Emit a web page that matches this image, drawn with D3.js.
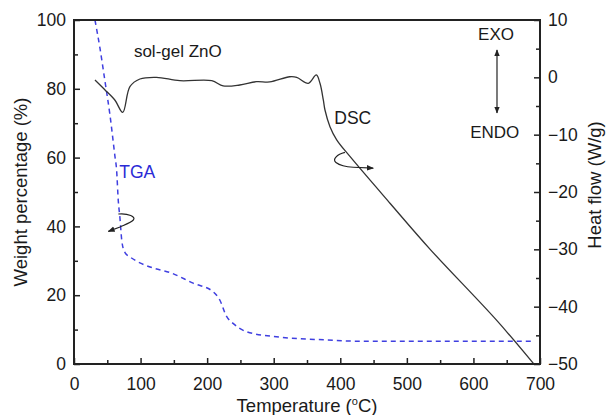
<!DOCTYPE html>
<html>
<head>
<meta charset="utf-8">
<script src="https://cdn.jsdelivr.net/npm/d3@7"></script>
<style>
  html, body { margin: 0; padding: 0; background: #fff; }
  svg { display: block; }
  text { font-family: "Liberation Sans", Arial, Helvetica, sans-serif; fill: #1a1a1a; }
</style>
</head>
<body>
<svg id="chart" width="608" height="415"></svg>
<script>
// ---- data ----
const tgaTemp = [31.5, 39, 46.6, 54, 61.6, 64, 66.5, 69, 71.7, 74, 76.6, 85, 94, 99, 119, 144, 179, 209, 219, 229, 239, 259, 304, 380, 430, 690];
const tgaWeight = [100, 91.8, 82.1, 72.4, 60.2, 56.4, 47.5, 42.5, 36.0, 33.5, 32.4, 31.0, 29.9, 29.4, 27.9, 26.6, 23.5, 21.0, 18.6, 13.9, 11.8, 9.4, 7.9, 7.0, 6.6, 6.6];

const dscTemp = [31.5, 46.6, 61.6, 73.2, 84, 99, 124, 159, 207, 224, 249, 274, 294, 324, 334.5, 352, 364, 369.5, 374.5, 377, 384.5, 394.6, 414.5, 475, 535, 635, 690];
const dscHeat = [-0.47, -2.2, -4.0, -6.1, -1.63, -0.29, 0.0, -0.59, -0.59, -1.5, -1.34, -0.76, -0.81, 0.1, 0.0, -1.04, 0.41, -1.04, -3.95, -5.7, -8.6, -10.9, -13.8, -22.0, -30.0, -42.4, -49.9];

const xTicks = [0, 100, 200, 300, 400, 500, 600, 700];
const yLeftTicks = [0, 20, 40, 60, 80, 100];
const yRightTicks = [10, 0, -10, -20, -30, -40, -50];

// ---- layout ----
const svg = d3.select("#chart");
const L = 74, R = 540, T = 20, B = 364;

const x = d3.scaleLinear().domain([0, 700]).range([L, R]);
const yL = d3.scaleLinear().domain([0, 100]).range([B, T]);
const yR = d3.scaleLinear().domain([-50, 10]).range([B, T]);

const axisColor = "#222";
const tickFont = "17.5px";

// curves
const tgaData = tgaTemp.map((t, i) => [t, tgaWeight[i]]);
const dscData = dscTemp.map((t, i) => [t, dscHeat[i]]);

svg.append("path")
  .datum(tgaData)
  .attr("fill", "none")
  .attr("stroke", "#3f3fe0")
  .attr("stroke-width", 1.5)
  .attr("stroke-dasharray", "5,4")
  .attr("d", d3.line().x(d => x(d[0])).y(d => yL(d[1])).curve(d3.curveMonotoneX));

svg.append("path")
  .datum(dscData)
  .attr("fill", "none")
  .attr("stroke", "#333")
  .attr("stroke-width", 1.3)
  .attr("d", d3.line().x(d => x(d[0])).y(d => yR(d[1])).curve(d3.curveCatmullRom.alpha(0.5)));

// ---- axes ----
function styleAxis(g) {
  g.select(".domain").remove();
  g.selectAll(".tick line").attr("stroke", axisColor).attr("stroke-width", 1.5);
  g.selectAll(".tick text").style("font-size", tickFont).attr("fill", "#1a1a1a");
}

// bottom
const gx = svg.append("g").attr("transform", `translate(0,${B})`)
  .call(d3.axisBottom(x).tickValues(xTicks).tickSize(-6).tickPadding(14).tickFormat(d3.format("d")));
styleAxis(gx);
svg.append("g").attr("transform", `translate(0,${B})`)
  .call(d3.axisBottom(x).tickValues(d3.range(50, 700, 100)).tickSize(-4).tickFormat(""))
  .call(g => { g.select(".domain").remove(); g.selectAll("line").attr("stroke", axisColor).attr("stroke-width", 1.5); });

// left
const gl = svg.append("g").attr("transform", `translate(${L},0)`)
  .call(d3.axisLeft(yL).tickValues(yLeftTicks).tickSize(-6).tickPadding(8).tickFormat(d3.format("d")));
styleAxis(gl);
svg.append("g").attr("transform", `translate(${L},0)`)
  .call(d3.axisLeft(yL).tickValues(d3.range(10, 100, 20)).tickSize(-4).tickFormat(""))
  .call(g => { g.select(".domain").remove(); g.selectAll("line").attr("stroke", axisColor).attr("stroke-width", 1.5); });

// right
const gr = svg.append("g").attr("transform", `translate(${R},0)`)
  .call(d3.axisRight(yR).tickValues(yRightTicks).tickSize(-6).tickPadding(9).tickFormat(d3.format("d")));
styleAxis(gr);
gr.selectAll(".tick text").attr("x", 8);
svg.append("g").attr("transform", `translate(${R},0)`)
  .call(d3.axisRight(yR).tickValues(d3.range(-45, 10, 10)).tickSize(-4).tickFormat(""))
  .call(g => { g.select(".domain").remove(); g.selectAll("line").attr("stroke", axisColor).attr("stroke-width", 1.5); });

// frame
svg.append("rect")
  .attr("x", L).attr("y", T).attr("width", R - L).attr("height", B - T)
  .attr("fill", "none").attr("stroke", axisColor).attr("stroke-width", 2);

// ---- titles ----
const xt = svg.append("text")
  .attr("x", (L + R) / 2).attr("y", 411.5)
  .attr("text-anchor", "middle").style("font-size", "18.5px");
xt.append("tspan").text("Temperature (");
xt.append("tspan").attr("dy", -7).style("font-size", "11px").text("o");
xt.append("tspan").attr("dy", 7).text("C)");

svg.append("text")
  .attr("transform", `translate(27,${(T + B) / 2}) rotate(-90)`)
  .attr("text-anchor", "middle").style("font-size", "18.5px")
  .text("Weight percentage (%)");

svg.append("text")
  .attr("transform", `translate(601,185) rotate(-90)`)
  .attr("text-anchor", "middle").style("font-size", "18.5px")
  .text("Heat flow (W/g)");

// ---- annotations (positions in data coordinates) ----
const defs = svg.append("defs");
defs.append("marker")
  .attr("id", "ah").attr("viewBox", "0 0 10 10").attr("refX", 9).attr("refY", 5)
  .attr("markerWidth", 7).attr("markerHeight", 7).attr("orient", "auto-start-reverse")
  .attr("markerUnits", "userSpaceOnUse")
  .append("path").attr("d", "M0,1 L10,5 L0,9 Z").attr("fill", "#222");

svg.append("text").attr("x", x(90)).attr("y", yL(89.3)).style("font-size", "17px").text("sol-gel ZnO");
svg.append("text").attr("x", x(68)).attr("y", yL(54.2)).style("font-size", "17.5px").style("fill", "#2b2bd6").text("TGA");
svg.append("text").attr("x", x(391)).attr("y", yR(-8.1)).style("font-size", "17.5px").text("DSC");
svg.append("text").attr("x", x(634)).attr("y", yR(6.5)).attr("text-anchor", "middle").style("font-size", "17px").text("EXO");
svg.append("text").attr("x", x(632)).attr("y", yR(-10.6)).attr("text-anchor", "middle").style("font-size", "17px").text("ENDO");

// EXO/ENDO double arrow
svg.append("line")
  .attr("x1", x(635.4)).attr("x2", x(635.4))
  .attr("y1", yR(4.77)).attr("y2", yR(-6.2))
  .attr("stroke", "#222").attr("stroke-width", 1.2)
  .attr("marker-start", "url(#ah)").attr("marker-end", "url(#ah)");

// TGA curl arrow (points to left axis)
svg.append("path")
  .attr("transform", `translate(${x(66.6)},${yL(43.6)})`)
  .attr("d", "M0,0 C10,-1 18,3 15,6 C12,9 6,11 1.7,13 L-10,17.4")
  .attr("fill", "none").attr("stroke", "#222").attr("stroke-width", 1.2)
  .attr("marker-end", "url(#ah)");

// DSC curl arrow (points to right axis)
svg.append("path")
  .attr("transform", `translate(${x(407)},${yR(-13.1)})`)
  .attr("d", "M0,0 C-8,2 -13,7 -9,10 C-5,13 3,14.5 8.3,14.8 L28.3,15.7")
  .attr("fill", "none").attr("stroke", "#222").attr("stroke-width", 1.2)
  .attr("marker-end", "url(#ah)");
</script>
</body>
</html>
